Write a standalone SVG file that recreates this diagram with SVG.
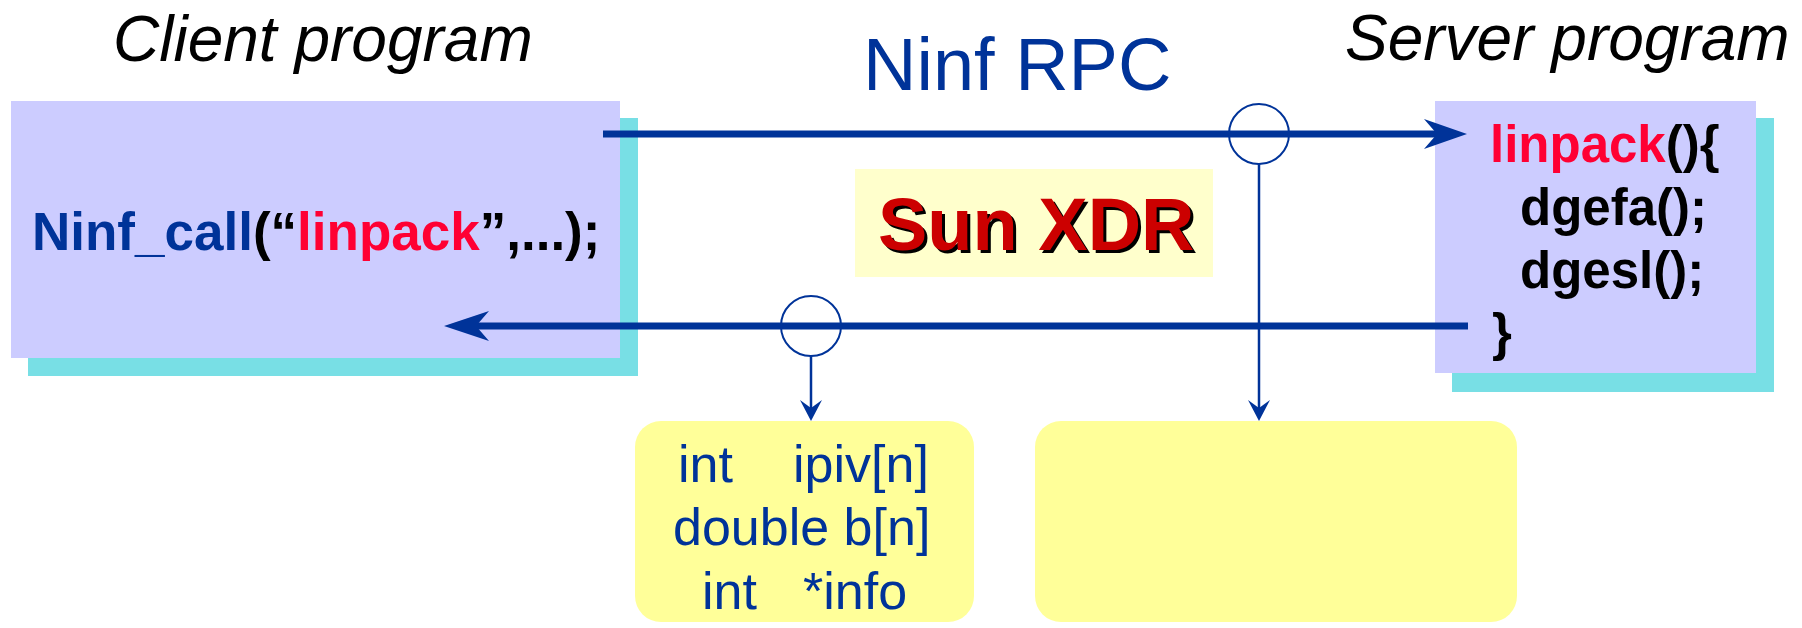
<svg xmlns="http://www.w3.org/2000/svg" width="1802" height="628" viewBox="0 0 1802 628">
<style>
.shadow{fill:#78DFE5}
.prog{fill:#CCCCFF}
.data{fill:#FFFF99}
.title{font-family:"Liberation Sans",Arial,sans-serif;font-style:italic;font-size:64px;fill:#000}
.code{font-family:"Liberation Sans",Arial,sans-serif;font-weight:bold;fill:#000}
.blue{fill:#003399}
.red{fill:#FF0033}
.decl{font-family:"Liberation Sans",Arial,sans-serif;font-size:52px;fill:#003399}
.thick{stroke:#003399;stroke-width:7;fill:none}
.thin{stroke:#003399;stroke-width:2.5;fill:none}
.ring{stroke:#003399;stroke-width:2;fill:none}
.head{fill:#003399}
</style>
<rect width="1802" height="628" fill="#FFFFFF"/>
<g id="client-title"><text class="title" x="113" y="61" font-size="65">Client program</text></g>
<g id="server-title"><text class="title" x="1345" y="60">Server program</text></g>
<g id="rpc-title"><text x="863" y="90" font-family="Liberation Sans,Arial,sans-serif" font-size="74" fill="#003399">Ninf RPC</text></g>
<g id="client">
<rect class="shadow" x="28" y="118" width="610" height="258"/>
<rect class="prog" x="11" y="101" width="609" height="257"/>
<text class="code" x="32" y="250" font-size="53"><tspan class="blue">Ninf_call</tspan>(“<tspan class="red">linpack</tspan>”,...);</text>
</g>
<g id="server">
<rect class="shadow" x="1452" y="118" width="322" height="274"/>
<rect class="prog" x="1435" y="101" width="321" height="272"/>
<text class="code" font-size="51"><tspan x="1490" y="162"><tspan class="red">linpack</tspan>(){</tspan><tspan x="1520" y="225">dgefa();</tspan><tspan x="1520" y="288">dgesl();</tspan><tspan x="1492" y="350">}</tspan></text>
</g>
<g id="xdr">
<rect x="855" y="169" width="358" height="108" fill="#FFFFCC"/>
<text x="881" y="253" font-family="Liberation Sans,Arial,sans-serif" font-weight="bold" font-size="74" fill="#000">Sun XDR</text>
<text x="878" y="250" font-family="Liberation Sans,Arial,sans-serif" font-weight="bold" font-size="74" fill="#CC0000">Sun XDR</text>
</g>
<g id="return-data">
<rect class="data" x="635" y="421" width="339" height="201" rx="26"/>
<text class="decl"><tspan x="678" y="482">int</tspan><tspan x="793" y="482">ipiv[n]</tspan><tspan x="673" y="545">double b[n]</tspan><tspan x="702" y="609">int</tspan><tspan x="803" y="609">*info</tspan></text>
</g>
<g id="call-data">
<rect class="data" x="1035" y="421" width="482" height="201" rx="26"/>
</g>
<g id="connectors">
<line class="thick" x1="603" y1="134" x2="1440" y2="134"/>
<path class="head" d="M1467,134 L1424,119 L1437,134 L1424,149 Z"/>
<line class="thick" x1="1468" y1="326" x2="472" y2="326"/>
<path class="head" d="M444,326 L489,311 L476,326 L489,341 Z"/>
<circle class="ring" cx="1259" cy="134" r="30"/>
<circle class="ring" cx="811" cy="326" r="30"/>
<line class="thin" x1="1259" y1="164" x2="1259" y2="410"/>
<path class="head" d="M1259,421 L1248,400 L1259,408 L1270,400 Z"/>
<line class="thin" x1="811" y1="356" x2="811" y2="410"/>
<path class="head" d="M811,421 L800,400 L811,408 L822,400 Z"/>
</g>
</svg>
